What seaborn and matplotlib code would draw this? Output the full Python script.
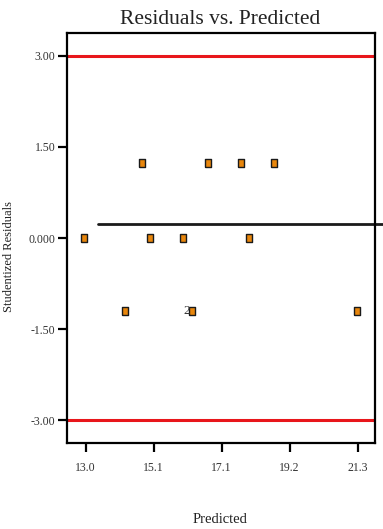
import pandas as pd
import matplotlib
matplotlib.use("Agg")
import matplotlib.pyplot as plt
import seaborn as sns

# data
predicted = [12.95, 14.20, 14.71, 14.96, 15.97, 16.23, 16.72, 17.74, 17.98, 18.75, 21.27]
residuals = [0.0, -1.20, 1.24, 0.0, 0.0, -1.20, 1.24, 1.24, 0.0, 1.24, -1.20]

x_ticks = [13.0, 15.075, 17.15, 19.225, 21.3]
x_tick_labels = ["13.0", "15.1", "17.1", "19.2", "21.3"]
y_ticks = [3.0, 1.5, 0.0, -1.5, -3.0]
y_tick_labels = ["3.00", "1.50", "0.000", "-1.50", "-3.00"]

limit_lines = [3.0, -3.0]
trend_y = 0.23
trend_x = [13.38, 22.07]
flag_label = "2"
flag_index = 5

df = pd.DataFrame({"Predicted": predicted, "Residual": residuals})

sns.set_style("white")
plt.rcParams['font.family'] = ['Liberation Serif', 'DejaVu Serif']

fig = plt.figure(figsize=(3.83, 5.29), dpi=100)
ax = fig.add_axes([0.176, 0.163, 0.803, 0.775])

# red limit lines
for yv in limit_lines:
    ax.axhline(yv, color="#e8161b", linewidth=2.2, zorder=1)

# black reference line (runs past the frame)
ax.plot(trend_x, [trend_y, trend_y], color="#1a1a1a", linewidth=2.0,
        clip_on=False, zorder=2)

# points: tall little squares
box = [(-0.7, -1), (0.7, -1), (0.7, 1), (-0.7, 1), (-0.7, -1)]
sns.scatterplot(data=df, x="Predicted", y="Residual", marker=box, s=28,
                color="#e8860c", edgecolor="#1a1a1a", linewidth=1.0,
                ax=ax, zorder=3, legend=False)

ax.text(predicted[flag_index] - 0.04, residuals[flag_index], flag_label,
        ha="right", va="center", fontsize=9.5, color="#333333", zorder=4)

ax.set_xlim(12.44, 21.83)
ax.set_ylim(-3.37, 3.38)
ax.set_xticks(x_ticks)
ax.set_xticklabels(x_tick_labels)
ax.set_yticks(y_ticks)
ax.set_yticklabels(y_tick_labels)

ax.tick_params(axis="both", direction="out", length=6.5, width=1.6,
               color="black", labelsize=8.5, labelcolor="#333333",
               bottom=True, left=True)
ax.tick_params(axis="x", pad=7)
ax.tick_params(axis="y", pad=2)

for sp in ax.spines.values():
    sp.set_visible(True)
    sp.set_color("black")
    sp.set_linewidth(1.6)

ax.set_xlabel("")
ax.set_ylabel("")
fig.text(0.575, 0.964, "Residuals vs. Predicted", ha="center", va="center",
         fontsize=15.5, color="#222222")
fig.text(0.575, 0.018, "Predicted", ha="center", va="center",
         fontsize=10.5, color="#222222")
fig.text(0.024, 0.516, "Studentized Residuals", ha="center", va="center",
         rotation=90, fontsize=9, color="#222222")

fig.savefig("out.png", dpi=100)
